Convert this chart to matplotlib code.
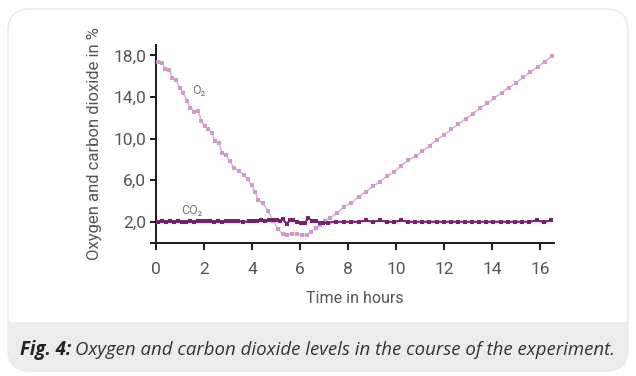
import matplotlib
matplotlib.use("Agg")
import matplotlib.pyplot as plt
from matplotlib.patches import FancyBboxPatch, Rectangle
from matplotlib.ticker import FixedLocator, FixedFormatter
import matplotlib.transforms as mtrans

# ---- data ----
o2_t = [0.08, 0.26, 0.39, 0.56, 0.68, 0.85, 0.99, 1.14, 1.30, 1.43, 1.60, 1.75, 1.89, 2.03, 2.18, 2.33, 2.46, 2.61,
        2.75, 2.92, 3.08, 3.25, 3.45, 3.67, 3.82, 3.98, 4.13, 4.26, 4.44, 4.68, 4.89,
        5.08, 5.28, 5.47, 5.68, 5.89, 6.08, 6.28, 6.45, 6.65, 6.83, 7.04, 7.25,
        7.55, 7.85, 8.14, 8.44, 8.75, 9.03, 9.33, 9.64, 9.93, 10.22, 10.5, 10.82, 11.1, 11.4, 11.7, 12.0,
        12.3, 12.6, 12.9, 13.2, 13.5, 13.8, 14.1, 14.4, 14.7, 15.0, 15.3, 15.6, 15.9, 16.2, 16.5]
o2_v = [17.4, 17.3, 16.7, 16.6, 15.8, 15.6, 14.9, 14.4, 13.6, 12.95, 12.6, 12.7, 11.7, 11.25, 10.9, 10.5, 9.8, 9.6,
        8.6, 8.4, 7.8, 7.2, 6.9, 6.5, 6.1, 5.5, 4.9, 4.1, 3.8, 3.0, 2.1,
        1.3, 0.84, 0.77, 0.84, 0.84, 0.74, 0.77, 1.06, 1.4, 1.7, 2.1, 2.37,
        2.86, 3.46, 3.8, 4.4, 4.9, 5.4, 5.87, 6.4, 6.8, 7.4, 7.9, 8.3, 8.8, 9.3, 9.9, 10.35,
        10.9, 11.4, 11.9, 12.4, 12.9, 13.4, 13.9, 14.4, 14.9, 15.35, 15.9, 16.4, 16.9, 17.4, 17.95]

co2_t = [0.1, 0.25, 0.42, 0.58, 0.75, 0.92, 1.08, 1.25, 1.42, 1.58, 1.75, 1.9, 2.08, 2.25, 2.42, 2.58, 2.75, 2.92,
         3.08, 3.25, 3.42, 3.64, 3.86, 4.05, 4.22, 4.36, 4.54, 4.72, 4.89, 5.03,
         5.15, 5.28, 5.44, 5.58, 5.72, 5.89, 6.03, 6.21, 6.35, 6.49, 6.67, 6.83, 6.97, 7.18, 7.5,
         7.83, 8.14, 8.45, 8.75, 9.03, 9.33, 9.63, 9.92, 10.22, 10.51, 10.8, 11.1, 11.39, 11.7, 11.99,
         12.29, 12.58, 12.88, 13.17, 13.47, 13.76, 14.05, 14.36, 14.65, 14.95, 15.25, 15.54, 15.86, 16.15, 16.47]
co2_v = [2.0, 2.03, 1.97, 2.03, 1.97, 2.06, 2.0, 2.0, 2.03, 2.0, 2.03, 2.06, 2.03, 2.06, 2.0, 2.03, 2.0, 2.06,
         2.03, 2.1, 2.06, 2.0, 2.03, 2.03, 2.1, 2.13, 2.06, 2.13, 2.16, 2.13,
         2.06, 2.26, 1.8, 2.13, 2.13, 1.97, 1.93, 1.93, 2.36, 2.1, 2.03, 1.93, 1.87, 1.93, 2.0,
         2.0, 2.0, 2.0, 2.13, 2.0, 2.13, 2.0, 2.0, 2.13, 2.0, 2.0, 2.0, 2.0, 2.0, 2.0,
         2.0, 2.0, 2.0, 2.0, 2.0, 2.0, 2.0, 2.0, 2.0, 2.0, 2.0, 2.0, 2.13, 2.0, 2.13]

y_ticks = [0, 2, 6, 10, 14, 18]
y_tick_labels = ["", "2,0", "6,0", "10,0", "14,0", "18,0"]
x_ticks = [0, 2, 4, 6, 8, 10, 12, 14, 16]
x_tick_labels = ["0", "2", "4", "6", "8", "10", "12", "14", "16"]

FONT = ["Roboto", "DejaVu Sans"]
CAP_FONT = ["Open Sans", "Roboto", "DejaVu Sans"]
plt.rcParams["font.family"] = FONT
plt.rcParams["font.weight"] = "normal"

TXT = "#555555"
W, H = 636, 376
fig = plt.figure(figsize=(W / 100, H / 100), dpi=100)
fig.patch.set_facecolor("white")

# background card
bg = fig.add_axes([0, 0, 1, 1], zorder=0)
bg.set_xlim(0, W)
bg.set_ylim(H, 0)
bg.axis("off")
card_kw = dict(boxstyle="round,pad=0,rounding_size=22")
card = FancyBboxPatch((8, 9), 620, 362, facecolor="white", edgecolor="none", **card_kw)
bg.add_patch(card)
band = Rectangle((0, 322), W, 60, facecolor="#ececec", edgecolor="none")
bg.add_patch(band)
band.set_clip_path(card)
border = FancyBboxPatch((8, 9), 620, 362, facecolor="none", edgecolor="#ebebeb", linewidth=1.2, **card_kw)
bg.add_patch(border)

# caption
cap_y = 350
t1 = bg.text(20, cap_y, "Fig. 4:", fontsize=13.4, style="italic", weight="bold", color="#222222",
             va="center", ha="left", family=CAP_FONT)
fig.canvas.draw()
r = fig.canvas.get_renderer()
bb = t1.get_window_extent(r)
bg.text(bb.x1 + 4, cap_y, "Oxygen and carbon dioxide levels in the course of the experiment.",
        fontsize=13.4, style="italic", weight="normal", color="#333333", va="center", ha="left",
        family=CAP_FONT,
        transform=mtrans.blended_transform_factory(mtrans.IdentityTransform(), bg.transData))

# main axes
ax = fig.add_axes([156 / W, (H - 242.6) / H, 398.4 / W, (242.6 - 45) / H], zorder=1)
ax.patch.set_alpha(0)
ax.set_xlim(0, 16.6)
ax.set_ylim(0, 19.0)

ax.plot(o2_t, o2_v, color="#dbb0d6", lw=1.1, marker="s", ms=2.7, mew=0, mfc="#cf9bca", zorder=3)
ax.plot(co2_t, co2_v, color="#78206e", lw=1.5, marker="s", ms=2.9, mew=0, mfc="#78206e", zorder=4)

ax.text(1.49, 14.6, "O₂", fontsize=9, weight="normal", color="#7a7a7a", ha="left", va="center", family=FONT)
ax.text(1.04, 3.05, "CO₂", fontsize=9, weight="normal", color="#7a7a7a", ha="left", va="center", family=FONT)

for s in ["top", "right"]:
    ax.spines[s].set_visible(False)
for s in ["left", "bottom"]:
    ax.spines[s].set_color("#1a1a1a")
    ax.spines[s].set_linewidth(1.4)

ax.yaxis.set_major_locator(FixedLocator(y_ticks))
ax.yaxis.set_major_formatter(FixedFormatter(y_tick_labels))
ax.xaxis.set_major_locator(FixedLocator(x_ticks))
ax.xaxis.set_major_formatter(FixedFormatter(x_tick_labels))
ax.tick_params(axis="y", direction="out", length=4, width=1.4, color="#1a1a1a",
               labelsize=12.5, labelcolor=TXT, pad=3)
ax.tick_params(axis="x", direction="out", length=5, width=1.4, color="#1a1a1a",
               labelsize=12.5, labelcolor=TXT, pad=9)

ax.set_xlabel("Time in hours", fontsize=11.5, weight="normal", color=TXT, labelpad=10)
ax.set_ylabel("Oxygen and carbon dioxide in %", fontsize=12, weight="normal", color=TXT, labelpad=8)

fig.savefig("out.png", dpi=100, facecolor="white")
